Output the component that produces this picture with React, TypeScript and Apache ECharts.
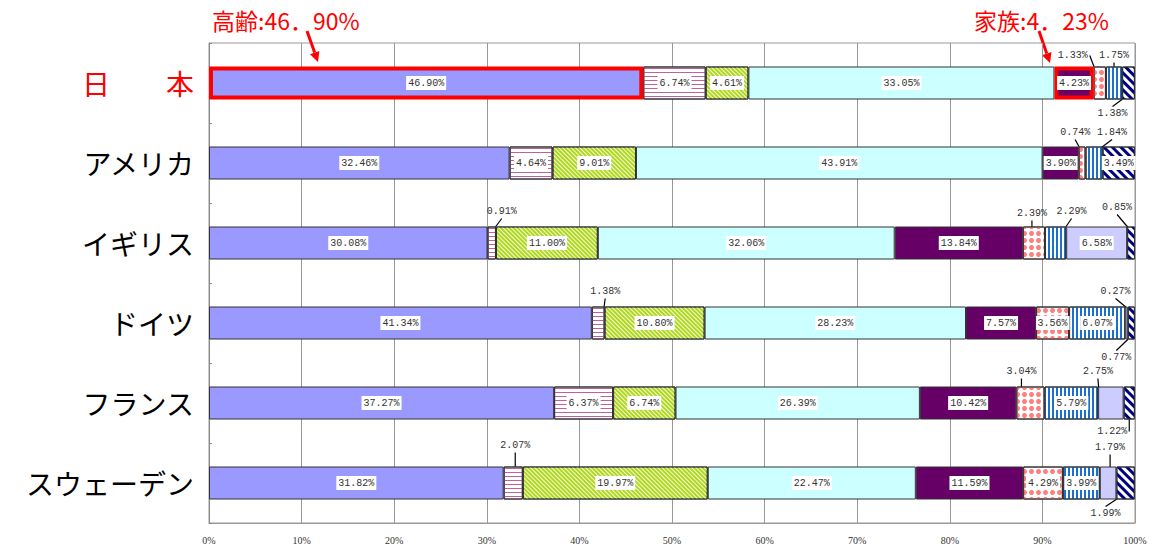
import React, { useEffect, useRef } from 'react';
import * as echarts from 'echarts';

// ---- data ----
const countries = ['日　　本', 'アメリカ', 'イギリス', 'ドイツ', 'フランス', 'スウェーデン'];
const seriesNames = ['高齢', '遺族', '障害・業務災害・傷病', '保健', '家族', '積極的労働市場政策', '失業', '住宅', '生活保護その他'];
const koureiValues = [46.90, 32.46, 30.08, 41.34, 37.27, 31.82];
const izokuValues = [6.74, 4.64, 0.91, 1.38, 6.37, 2.07];
const shougaiValues = [4.61, 9.01, 11.00, 10.80, 6.74, 19.97];
const hokenValues = [33.05, 43.91, 32.06, 28.23, 26.39, 22.47];
const kazokuValues = [4.23, 3.90, 13.84, 7.57, 10.42, 11.59];
const roudouValues = [1.33, 0.74, 2.39, 3.56, 3.04, 4.29];
const shitsugyouValues = [1.75, 1.84, 2.29, 6.07, 5.79, 3.99];
const juutakuValues = [0, 0, 6.58, 0.27, 2.75, 1.79];
const seikatsuValues = [1.38, 3.49, 0.85, 0.77, 1.22, 1.99];
const xTickValues = [0, 10, 20, 30, 40, 50, 60, 70, 80, 90, 100];
const annotationLeft = '高齢:46．90%';
const annotationRight = '家族:4．23%';

const allValues = [koureiValues, izokuValues, shougaiValues, hokenValues, kazokuValues, roudouValues, shitsugyouValues, juutakuValues, seikatsuValues];

// ---- styles ----
const baseColors = ['#9999FF', '#FFFFFF', '#B0D81E', '#CCFFFF', '#660066', '#FFFFFF', '#FFFFFF', '#CCCCFF', '#FFFFFF'];
const decals: any[] = [
  null,
  { symbol: 'rect', symbolSize: 1, color: '#C2609C', dashArrayX: [1, 0], dashArrayY: [0.9, 2.1], rotation: 0 },
  { symbol: 'rect', symbolSize: 1, color: 'rgba(255,255,255,0.85)', dashArrayX: [1, 0], dashArrayY: [1, 1.6], rotation: Math.PI / 4 },
  null,
  null,
  { symbol: 'circle', symbolSize: 1, color: '#FF7F7F', dashArrayX: [5, 2], dashArrayY: [5, 2], rotation: 0 },
  { symbol: 'rect', symbolSize: 1, color: '#1A6FCF', dashArrayX: [1.6, 1.4], dashArrayY: [1, 0], rotation: 0 },
  null,
  { symbol: 'rect', symbolSize: 1, color: '#000080', dashArrayX: [1, 0], dashArrayY: [2.4, 2.4], rotation: Math.PI / 4 },
];

// label offsets for small segments: key `${countryIndex}-${seriesIndex}` -> [dx from segment centre, dy from bar edge (neg = above top, pos = below bottom)]
const outsideLabels: Record<string, [number, number]> = {
  '0-5': [-27, -11], '0-6': [0, -11], '0-8': [-16, 14],
  '1-5': [-7, -14], '1-6': [18, -14],
  '2-1': [10, -15], '2-5': [-2, -13], '2-6': [16, -15], '2-8': [-14, -19],
  '3-1': [7, -15], '3-7': [-11, -15], '3-8': [-15, 18],
  '4-5': [-9, -15], '4-7': [-13, -15], '4-8': [-17, 12],
  '5-1': [2, -21], '5-7': [2, -19], '5-8': [-20, 14],
};
const highlighted: Record<string, boolean> = { '0-0': true, '0-4': true };

const labelFont = 'Liberation Mono';

function buildSeries() {
  return allValues.map((vals, si) => ({
    type: 'bar',
    name: seriesNames[si],
    stack: 'total',
    barWidth: 33,
    z: si === 0 || si === 4 ? 3 : 2,
    itemStyle: {
      color: baseColors[si],
      borderColor: '#333',
      borderWidth: 1,
      ...(decals[si] ? { decal: decals[si] } : {}),
    },
    label: {
      show: true,
      position: 'inside',
      formatter: (p: any) => (p.value ? Number(p.value).toFixed(2) + '%' : ''),
      fontFamily: labelFont,
      fontSize: 10,
      color: '#333',
      backgroundColor: '#FFFFFF',
      padding: [2, 2, 2, 2],
    },
    labelLayout: (params: any) => {
      const o = outsideLabels[`${params.dataIndex}-${params.seriesIndex}`];
      if (!o) return {};
      const r = params.rect;
      const cx = r.x + r.width / 2 + o[0];
      const cy = o[1] < 0 ? r.y + o[1] : r.y + r.height + o[1];
      return { x: cx, y: cy, align: 'center', verticalAlign: 'middle' };
    },
    data: vals.map((v, ci) => {
      const key = `${ci}-${si}`;
      const item: any = { value: v === 0 ? null : v };
      if (outsideLabels[key]) {
        item.labelLine = { show: true, lineStyle: { color: '#000', width: 1.2 } };
        item.label = { backgroundColor: 'transparent' };
      }
      if (highlighted[key]) {
        item.itemStyle = { borderColor: '#FF0000', borderWidth: 4 };
      }
      return item;
    }),
  }));
}

function arrow(x1: number, y1: number, x2: number, y2: number) {
  const dx = x2 - x1, dy = y2 - y1;
  const len = Math.sqrt(dx * dx + dy * dy);
  const ux = dx / len, uy = dy / len;
  const head = 10, half = 5;
  const bx = x2 - ux * head, by = y2 - uy * head;
  const nx = -uy * half, ny = ux * half;
  return [
    { type: 'line', shape: { x1, y1, x2: bx, y2: by }, style: { stroke: '#FF0000', lineWidth: 3 } },
    { type: 'polygon', shape: { points: [[x2, y2], [bx + nx, by + ny], [bx - nx, by - ny]] }, style: { fill: '#FF0000' } },
  ];
}

export default function App() {
  const ref = useRef<HTMLDivElement>(null);
  useEffect(() => {
    if (!ref.current) return;
    const chart = echarts.init(ref.current, undefined, { renderer: 'svg' });
    chart.setOption({
      animation: false,
      backgroundColor: '#FFFFFF',
      grid: { left: 209, right: 21, top: 43, bottom: 24, show: true, borderColor: '#999', borderWidth: 1, containLabel: false },
      xAxis: {
        type: 'value',
        min: 0,
        max: 100,
        interval: 10,
        axisLine: { show: true, lineStyle: { color: '#999' } },
        axisTick: { show: false },
        splitLine: { show: true, lineStyle: { color: '#999', width: 1 } },
        axisLabel: {
          formatter: (v: number) => (xTickValues.includes(v) ? `${v}%` : ''),
          fontFamily: 'Liberation Serif',
          fontSize: 10,
          color: '#333',
          margin: 12,
        },
      },
      yAxis: {
        type: 'category',
        inverse: true,
        data: countries.map((c, i) => (i === 0 ? { value: c, textStyle: { color: '#FF0000' } } : c)),
        axisLine: { show: true, lineStyle: { color: '#888' } },
        axisTick: { show: true, inside: true, length: 3, lineStyle: { color: '#888' } },
        axisLabel: {
          fontFamily: 'Noto Sans CJK JP',
          fontSize: 28,
          color: '#000',
          margin: 15,
        },
      },
      series: buildSeries(),
      graphic: [
        { type: 'text', x: 212, y: 20, style: { text: annotationLeft, fill: '#FF0000', font: '23px "Noto Sans CJK JP"', verticalAlign: 'middle' } },
        { type: 'text', x: 974, y: 20, style: { text: annotationRight, fill: '#FF0000', font: '23px "Noto Sans CJK JP"', verticalAlign: 'middle' } },
        ...arrow(307, 31, 318, 62),
        ...arrow(1039, 31, 1050, 63),
      ],
    });
    return () => chart.dispose();
  }, []);
  return <div ref={ref} style={{ position: 'fixed', left: 0, top: 0, width: 1156, height: 547 }} />;
}
